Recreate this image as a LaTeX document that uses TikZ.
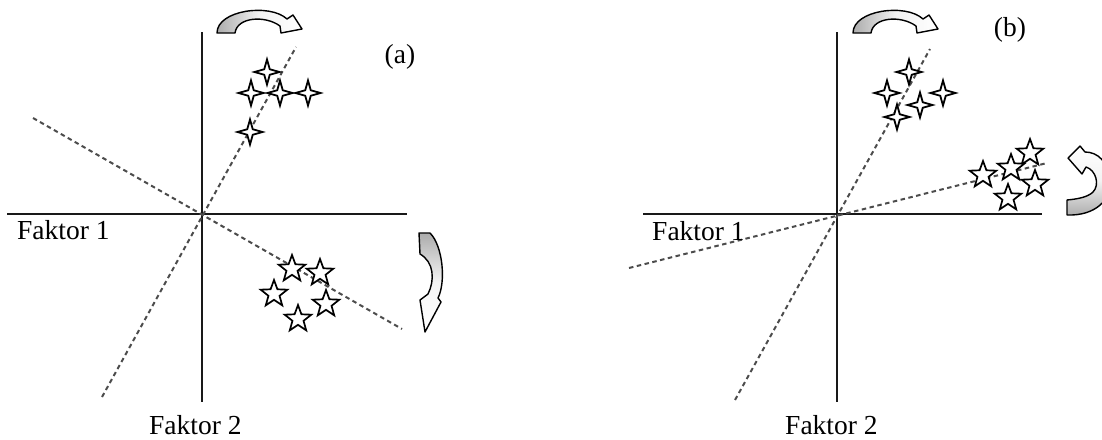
\documentclass[tikz,border=0pt]{standalone}
\usepackage{fontspec}
\setmainfont{Liberation Serif}
\usetikzlibrary{shapes.geometric}
\tikzset{
  axisline/.style={line width=1.6pt, black!90},
  dashline/.style={line width=2pt, black!70, dash pattern=on 4.5pt off 3.5pt},
  fourstar/.style={star, star points=4, star point ratio=3.2, minimum size=25pt, inner sep=0pt, draw=black, fill=white, line width=1.8pt},
  fivestar/.style={star, star points=5, star point ratio=2.4, minimum size=28pt, inner sep=0pt, draw=black, fill=white, line width=1.7pt},
  bentarrow/.style={draw=black, line width=1.4pt, line join=round},
  lbl/.style={font=\fontsize{27.5}{32}\selectfont, inner sep=0pt}
}
\begin{document}
\begin{tikzpicture}[x=1pt, y=-1pt]
\useasboundingbox (0,0) rectangle (1102,439);
\clip (0,0) rectangle (1102,439);

% ---------- panel (a) ----------
\coordinate (aT) at (202,32);
\coordinate (aB) at (202,402);
\coordinate (aL) at (7,214);
\coordinate (aR) at (407,214);
\coordinate (aD1s) at (102,397);
\coordinate (aD1e) at (296,47);
\coordinate (aD2s) at (33,118);
\coordinate (aD2e) at (402,329);
\draw[axisline] (aT) -- (aB);
\draw[axisline] (aL) -- (aR);
\draw[dashline] (aD1s) -- (aD1e);
\draw[dashline] (aD2s) -- (aD2e);

\node[fourstar] (a4s1) at (267,72) {};
\node[fourstar] (a4s2) at (251,93) {};
\node[fourstar] (a4s3) at (280,93) {};
\node[fourstar] (a4s4) at (308,93) {};
\node[fourstar] (a4s5) at (250,132) {};

\node[fivestar] (a5s1) at (292,269) {};
\node[fivestar] (a5s2) at (320,273) {};
\node[fivestar] (a5s3) at (274,294) {};
\node[fivestar] (a5s4) at (326,304) {};
\node[fivestar] (a5s5) at (298,319) {};

% top bent arrow (a)
\path[bentarrow, left color=gray!65, right color=white, middle color=gray!10]
  (217,33) .. controls (217,10) and (270,3) .. (287,19) -- (293,15) -- (302,29)
  -- (281,33) -- (280,26) .. controls (265,15) and (237,17) .. (235,33) -- cycle;
% right bent arrow (a)
\path[bentarrow, top color=gray!65, bottom color=white, middle color=gray!8]
  (419,233) -- (430,233) .. controls (443,246) and (446,282) .. (438,298) -- (441,302)
  -- (425,332) -- (420,300) -- (428,294) .. controls (435,280) and (434,262) .. (420,254) -- cycle;

\node[lbl, anchor=base west] (aF1) at (17,239) {Faktor 1};
\node[lbl, anchor=base west] (aF2) at (149,434) {Faktor 2};
\node[lbl, anchor=base] (alab) at (400,63) {(a)};

% ---------- panel (b) ----------
\coordinate (bT) at (837,32);
\coordinate (bB) at (837,402);
\coordinate (bL) at (643,214);
\coordinate (bR) at (1042,214);
\coordinate (bD1s) at (735,400);
\coordinate (bD1e) at (930,49);
\coordinate (bD2s) at (629,268);
\coordinate (bD2e) at (1047,163);
\draw[axisline] (bT) -- (bB);
\draw[axisline] (bL) -- (bR);
\draw[dashline] (bD1s) -- (bD1e);
\draw[dashline] (bD2s) -- (bD2e);

\node[fourstar] (b4s1) at (909,72) {};
\node[fourstar] (b4s2) at (887,93) {};
\node[fourstar] (b4s3) at (920,105) {};
\node[fourstar] (b4s4) at (943,93) {};
\node[fourstar] (b4s5) at (897,117) {};

\node[fivestar] (b5s1) at (1030,153) {};
\node[fivestar] (b5s2) at (983,175) {};
\node[fivestar] (b5s3) at (1011,168) {};
\node[fivestar] (b5s4) at (1035,184) {};
\node[fivestar] (b5s5) at (1008,198) {};

% top bent arrow (b)
\path[bentarrow, left color=gray!65, right color=white, middle color=gray!10]
  (853,33) .. controls (853,10) and (906,3) .. (923,19) -- (929,15) -- (938,29)
  -- (917,33) -- (916,26) .. controls (901,15) and (873,17) .. (871,33) -- cycle;
% right bent arrow (b)
\path[bentarrow, bottom color=gray!65, top color=white, middle color=gray!10]
  (1067,200) -- (1067,215) .. controls (1095,216) and (1112,200) .. (1110,180)
  .. controls (1108,162) and (1098,152) .. (1085,152) -- (1080,146) -- (1068,158)
  -- (1082,174) -- (1086,167) .. controls (1096,170) and (1100,185) .. (1093,192)
  .. controls (1088,197) and (1078,199) .. (1067,200) -- cycle;

\node[lbl, anchor=base west] (bF1) at (652,240) {Faktor 1};
\node[lbl, anchor=base west] (bF2) at (785,434) {Faktor 2};
\node[lbl, anchor=base] (blab) at (1010,36) {(b)};
\end{tikzpicture}
\end{document}
